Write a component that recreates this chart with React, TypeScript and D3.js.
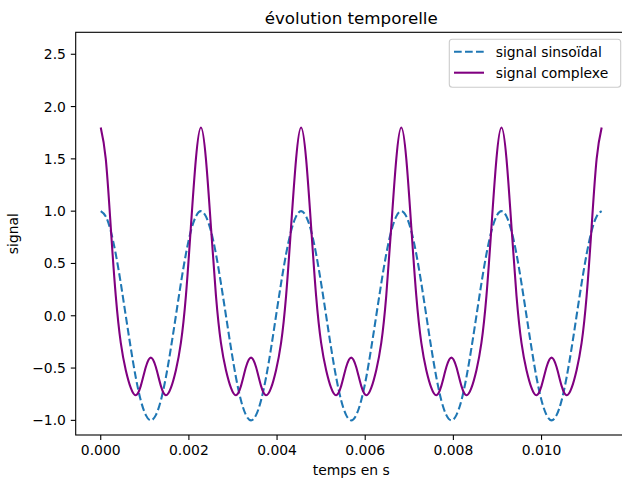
import { useRef, useEffect } from 'react';
import * as d3 from 'd3';

// sample times in ms (5 periods of the 440 Hz tone, 20 samples each)
const timeMs = [
  0, 0.114, 0.227, 0.341, 0.455, 0.568, 0.682, 0.795, 0.909, 1.023,
  1.136, 1.25, 1.364, 1.477, 1.591, 1.705, 1.818, 1.932, 2.045, 2.159,
  2.273, 2.386, 2.5, 2.614, 2.727, 2.841, 2.955, 3.068, 3.182, 3.295,
  3.409, 3.523, 3.636, 3.75, 3.864, 3.977, 4.091, 4.205, 4.318, 4.432,
  4.545, 4.659, 4.773, 4.886, 5.0, 5.114, 5.227, 5.341, 5.455, 5.568,
  5.682, 5.795, 5.909, 6.023, 6.136, 6.25, 6.364, 6.477, 6.591, 6.705,
  6.818, 6.932, 7.045, 7.159, 7.273, 7.386, 7.5, 7.614, 7.727, 7.841,
  7.955, 8.068, 8.182, 8.295, 8.409, 8.523, 8.636, 8.75, 8.864, 8.977,
  9.091, 9.205, 9.318, 9.432, 9.545, 9.659, 9.773, 9.886, 10.0, 10.114,
  10.227, 10.341, 10.455, 10.568, 10.682, 10.795, 10.909, 11.023, 11.136, 11.25,
  11.364,
];

const sinusValues = [
  1, 0.95, 0.81, 0.59, 0.31, 0, -0.31, -0.59, -0.81, -0.95,
  -1, -0.95, -0.81, -0.59, -0.31, 0, 0.31, 0.59, 0.81, 0.95,
  1, 0.95, 0.81, 0.59, 0.31, 0, -0.31, -0.59, -0.81, -0.95,
  -1, -0.95, -0.81, -0.59, -0.31, 0, 0.31, 0.59, 0.81, 0.95,
  1, 0.95, 0.81, 0.59, 0.31, 0, -0.31, -0.59, -0.81, -0.95,
  -1, -0.95, -0.81, -0.59, -0.31, 0, 0.31, 0.59, 0.81, 0.95,
  1, 0.95, 0.81, 0.59, 0.31, 0, -0.31, -0.59, -0.81, -0.95,
  -1, -0.95, -0.81, -0.59, -0.31, 0, 0.31, 0.59, 0.81, 0.95,
  1, 0.95, 0.81, 0.59, 0.31, 0, -0.31, -0.59, -0.81, -0.95,
  -1, -0.95, -0.81, -0.59, -0.31, 0, 0.31, 0.59, 0.81, 0.95,
  1,
];

const complexValues = [
  1.8, 1.5, 0.85, 0.19, -0.26, -0.52, -0.69, -0.76, -0.67, -0.49,
  -0.4, -0.49, -0.67, -0.76, -0.69, -0.52, -0.26, 0.19, 0.85, 1.5,
  1.8, 1.5, 0.85, 0.19, -0.26, -0.52, -0.69, -0.76, -0.67, -0.49,
  -0.4, -0.49, -0.67, -0.76, -0.69, -0.52, -0.26, 0.19, 0.85, 1.5,
  1.8, 1.5, 0.85, 0.19, -0.26, -0.52, -0.69, -0.76, -0.67, -0.49,
  -0.4, -0.49, -0.67, -0.76, -0.69, -0.52, -0.26, 0.19, 0.85, 1.5,
  1.8, 1.5, 0.85, 0.19, -0.26, -0.52, -0.69, -0.76, -0.67, -0.49,
  -0.4, -0.49, -0.67, -0.76, -0.69, -0.52, -0.26, 0.19, 0.85, 1.5,
  1.8, 1.5, 0.85, 0.19, -0.26, -0.52, -0.69, -0.76, -0.67, -0.49,
  -0.4, -0.49, -0.67, -0.76, -0.69, -0.52, -0.26, 0.19, 0.85, 1.5,
  1.8,
];

const xTicks = [0, 0.002, 0.004, 0.006, 0.008, 0.01];
const yTicks = [-1.0, -0.5, 0.0, 0.5, 1.0, 1.5, 2.0, 2.5];
const seriesNames = ['signal sinsoïdal', 'signal complexe'];

export default function App() {
  const svgRef = useRef(null);
  const width = 622, height = 481;
  const margin = { top: 32.3, right: -4.7, bottom: 46, left: 75.7 };
  const font = '"DejaVu Sans", sans-serif';

  function renderChart() {
    const svg = d3.select(svgRef.current);
    svg.selectAll('*').remove();

    const x = d3.scaleLinear().domain([-0.000568, 0.011932])
      .range([margin.left, width - margin.right]);
    const y = d3.scaleLinear().domain([-1.14, 2.71])
      .range([height - margin.bottom, margin.top]);

    svg.append('rect').attr('width', width).attr('height', height).attr('fill', '#fff');

    const line = (vals) => d3.line()
      .x((d, i) => x(timeMs[i] / 1000))
      .y(d => y(d))
      .curve(d3.curveNatural)(vals);

    // sinus, dashed
    svg.append('path')
      .attr('d', line(sinusValues))
      .attr('fill', 'none')
      .attr('stroke', '#1f77b4')
      .attr('stroke-width', 2.08)
      .attr('stroke-dasharray', '7.7,3.3');

    svg.append('path')
      .attr('d', line(complexValues))
      .attr('fill', 'none')
      .attr('stroke', '#800080')
      .attr('stroke-width', 2.08)
      .attr('stroke-linejoin', 'round');

    // spines
    const x0 = x.range()[0], x1 = x.range()[1], y0 = y.range()[0], y1 = y.range()[1];
    svg.append('rect')
      .attr('x', x0).attr('y', y1)
      .attr('width', x1 - x0).attr('height', y0 - y1)
      .attr('fill', 'none').attr('stroke', '#000').attr('stroke-width', 1.1);

    // x axis
    const xAxis = svg.append('g');
    xTicks.forEach(t => {
      xAxis.append('line')
        .attr('x1', x(t)).attr('x2', x(t))
        .attr('y1', y0).attr('y2', y0 + 4.9)
        .attr('stroke', '#000').attr('stroke-width', 1.1);
      xAxis.append('text')
        .attr('x', x(t)).attr('y', y0 + 9.8)
        .attr('dy', '0.76em')
        .attr('text-anchor', 'middle')
        .attr('font-family', font).attr('font-size', 13.9)
        .text(d3.format('.3f')(t));
    });

    // y axis
    const yAxis = svg.append('g');
    yTicks.forEach(t => {
      yAxis.append('line')
        .attr('x1', x0 - 4.9).attr('x2', x0)
        .attr('y1', y(t)).attr('y2', y(t))
        .attr('stroke', '#000').attr('stroke-width', 1.1);
      yAxis.append('text')
        .attr('x', x0 - 9.8).attr('y', y(t))
        .attr('dy', '0.36em')
        .attr('text-anchor', 'end')
        .attr('font-family', font).attr('font-size', 13.9)
        .text(d3.format('.1f')(t).replace('-', '\u2212'));
    });

    // labels
    svg.append('text')
      .attr('x', (x0 + x1) / 2).attr('y', 24)
      .attr('text-anchor', 'middle')
      .attr('font-family', font).attr('font-size', 16.7)
      .text('évolution temporelle');

    svg.append('text')
      .attr('x', (x0 + x1) / 2).attr('y', 475)
      .attr('text-anchor', 'middle')
      .attr('font-family', font).attr('font-size', 13.9)
      .text('temps en s');

    svg.append('text')
      .attr('transform', `translate(18,${(y0 + y1) / 2}) rotate(-90)`)
      .attr('text-anchor', 'middle')
      .attr('font-family', font).attr('font-size', 13.9)
      .text('signal');

    // legend
    const legend = svg.append('g');
    legend.append('rect')
      .attr('x', 449.3).attr('y', 39.3)
      .attr('width', 171.4).attr('height', 48)
      .attr('rx', 3)
      .attr('fill', 'rgba(255,255,255,0.8)')
      .attr('stroke', '#cccccc').attr('stroke-width', 1.1);

    const styles = [
      { color: '#1f77b4', dash: '7.7,3.3' },
      { color: '#800080', dash: null },
    ];
    seriesNames.forEach((name, i) => {
      const ly = 51.7 + i * 21;
      legend.append('line')
        .attr('x1', 454).attr('x2', 484)
        .attr('y1', ly).attr('y2', ly)
        .attr('stroke', styles[i].color)
        .attr('stroke-width', 2.08)
        .attr('stroke-dasharray', styles[i].dash);
      legend.append('text')
        .attr('x', 495.7).attr('y', ly)
        .attr('dy', '0.36em')
        .attr('font-family', font).attr('font-size', 13.9)
        .text(name);
    });
  }

  useEffect(() => {
    renderChart();
  }, []);

  return (
    <svg ref={svgRef} width={width} height={height}
      style={{ position: 'absolute', left: 0, top: 0 }} />
  );
}
